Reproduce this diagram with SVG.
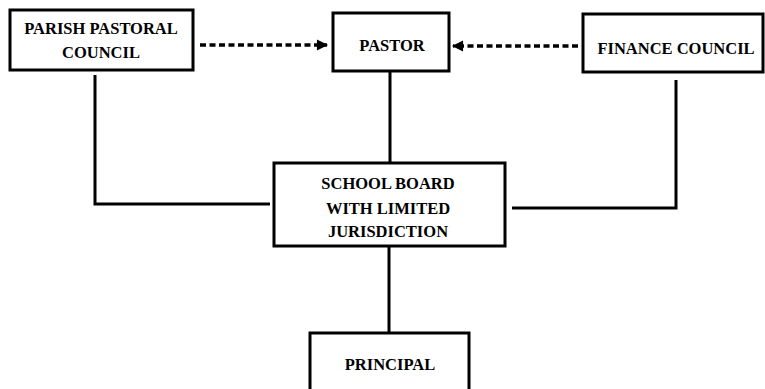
<svg xmlns="http://www.w3.org/2000/svg" width="765" height="389" viewBox="0 0 765 389">
<style>
.box{fill:#fff;stroke:#000;stroke-width:3}
.t{font-family:"Liberation Serif",serif;font-weight:bold;font-size:16.5px;text-anchor:middle;fill:#000}
.ln{fill:none;stroke:#000;stroke-width:3}
.dash{fill:none;stroke:#000;stroke-width:3.5;stroke-dasharray:6 3.5}
</style>
<defs>
<marker id="ah" viewBox="0 0 10 10" refX="9" refY="5" markerWidth="4" markerHeight="3.2" orient="auto-start-reverse" markerUnits="strokeWidth">
<path d="M0,0 L10,5 L0,10 Z" fill="#000"/>
</marker>
</defs>
<g id="connectors">
<path class="dash" d="M200,45 H327" marker-end="url(#ah)"/>
<path class="dash" d="M578,46 H453" marker-end="url(#ah)"/>
<path class="ln" d="M390,71 V163"/>
<path class="ln" d="M95,75 V204 H270"/>
<path class="ln" d="M676,80 V208 H512"/>
<path class="ln" d="M389,247 V333"/>
</g>
<g id="parish">
<rect class="box" x="10" y="10" width="183" height="60"/>
<text class="t" x="101" y="34">PARISH PASTORAL</text>
<text class="t" x="101" y="58">COUNCIL</text>
</g>
<g id="pastor">
<rect class="box" x="333" y="13" width="116" height="58"/>
<text class="t" x="392" y="51">PASTOR</text>
</g>
<g id="finance">
<rect class="box" x="583" y="14" width="180" height="58"/>
<text class="t" x="676" y="54">FINANCE COUNCIL</text>
</g>
<g id="schoolboard">
<rect class="box" x="274" y="163" width="231" height="83"/>
<text class="t" x="388" y="189">SCHOOL BOARD</text>
<text class="t" x="388" y="214">WITH LIMITED</text>
<text class="t" x="388" y="237">JURISDICTION</text>
</g>
<g id="principal">
<rect class="box" x="310" y="333" width="159" height="70"/>
<text class="t" x="390" y="370">PRINCIPAL</text>
</g>
</svg>
